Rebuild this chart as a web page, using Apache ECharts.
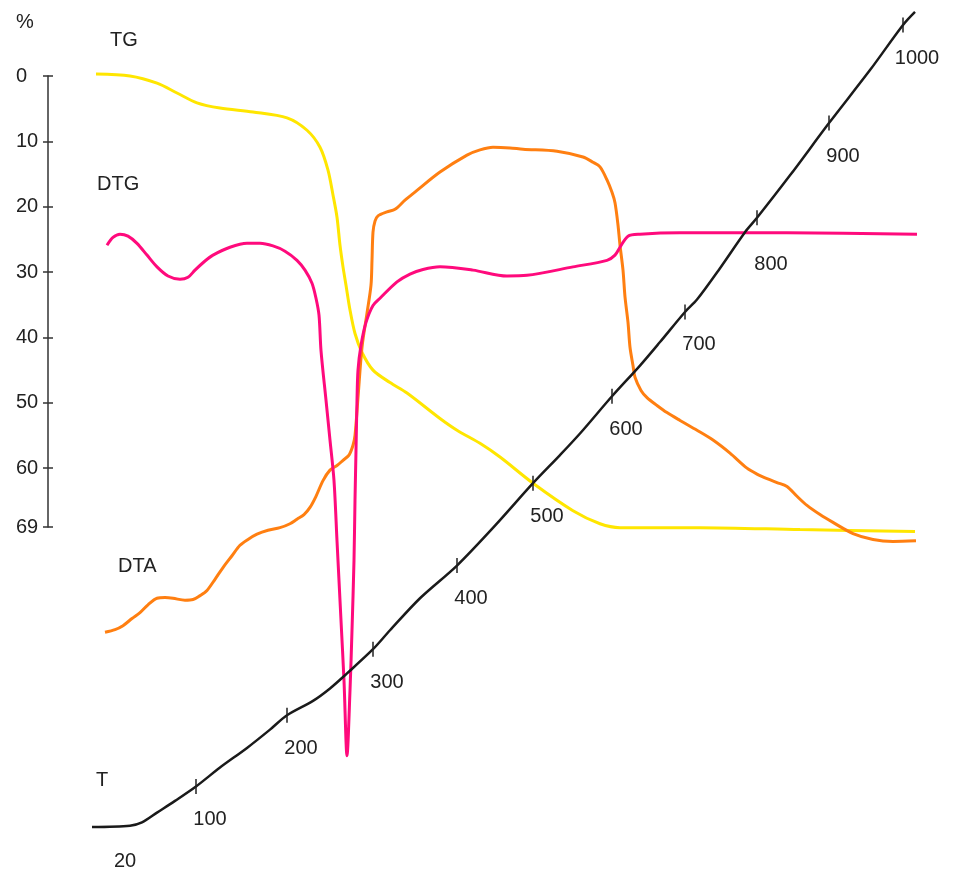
<!DOCTYPE html>
<html lang="en">
<head>
    <meta charset="UTF-8" />
    <title>TG / DTG / DTA</title>
    <script src="https://cdn.jsdelivr.net/npm/echarts@6/dist/echarts.min.js"></script>
    <style>body { margin: 0; background: #fff; }</style>
</head>
<body>
    <div style="width: 955px; height: 870px" id="chart"></div>
    <script>
        // horizontal position (time-like, arbitrary units) and value on the % scale
        const tgX = [4.8, 8.2, 10.9, 12.9, 14.9, 17.2, 20.5, 23.9, 25.9, 27.2, 28.0, 28.5, 28.9, 29.2, 29.5, 29.8, 30.2, 30.7, 31.4, 32.5, 34.2, 35.9, 39.2, 40.9, 43.2, 45.2, 48.5, 52.5, 55.2, 57.2, 65.2, 75.2, 86.7];
        const tgY = [-0.3, 0, 1.1, 2.6, 4.1, 4.9, 5.5, 6.4, 8.3, 10.9, 14.4, 18.2, 21.6, 25.9, 29.2, 32.0, 35.8, 39.4, 42.3, 45.0, 46.9, 48.5, 52.4, 54.2, 56.2, 58.3, 62.3, 66.5, 68.5, 69.1, 69.1, 69.4, 69.7];

        const dtgX = [5.9, 6.5, 7.2, 8.0, 8.9, 9.9, 10.9, 12.0, 13.2, 14.0, 14.7, 15.7, 16.5, 18.2, 19.9, 21.2, 22.5, 23.7, 24.9, 25.7, 26.4, 26.8, 27.1, 27.3, 27.8, 28.2, 28.6, 28.9, 29.3, 29.6, 29.9, 30.2, 30.4, 30.6, 30.7, 30.8, 30.9, 31.0, 31.3, 31.8, 32.5, 33.2, 34.9, 36.2, 37.5, 39.2, 42.5, 45.9, 47.9, 52.5, 55.9, 56.7, 57.2, 58.0, 59.2, 63.2, 73.9, 86.9];
        const dtgY = [25.9, 24.7, 24.2, 24.5, 25.6, 27.4, 29.2, 30.6, 31.1, 30.8, 29.7, 28.3, 27.4, 26.2, 25.6, 25.6, 26.0, 26.8, 28.2, 29.7, 31.7, 34.0, 36.6, 42.0, 49.6, 55.7, 61.9, 71.1, 83.3, 92.5, 104.0, 94.0, 84.8, 74.1, 64.9, 57.3, 49.6, 45.0, 41.2, 37.7, 35.1, 34.0, 31.5, 30.3, 29.6, 29.2, 29.7, 30.6, 30.5, 29.2, 28.2, 27.4, 26.2, 24.5, 24.2, 24.0, 24.0, 24.2];

        const dtaX = [5.7, 6.7, 7.5, 8.4, 9.2, 10.0, 10.9, 11.7, 12.5, 13.7, 14.5, 15.2, 15.9, 16.7, 17.5, 18.4, 19.2, 20.0, 20.9, 22.0, 23.2, 24.2, 24.9, 25.6, 26.2, 26.8, 27.5, 28.2, 28.9, 29.5, 30.1, 30.5, 30.7, 31.0, 31.4, 31.9, 32.3, 32.4, 32.5, 32.7, 33.0, 33.9, 34.7, 35.7, 36.9, 39.2, 41.9, 43.2, 44.5, 46.2, 47.5, 50.9, 53.5, 54.5, 55.2, 55.9, 56.4, 56.7, 57.0, 57.2, 57.5, 57.7, 58.0, 58.2, 58.5, 58.7, 59.3, 59.9, 60.9, 61.9, 63.2, 64.9, 66.5, 68.2, 69.9, 70.9, 71.9, 72.9, 73.9, 74.9, 75.9, 77.2, 78.5, 80.5, 82.5, 84.5, 86.8];
        const dtaY = [85.1, 84.7, 84.1, 83.0, 82.1, 80.9, 79.9, 79.8, 79.9, 80.2, 80.1, 79.5, 78.7, 77.0, 75.2, 73.4, 71.8, 70.9, 70.1, 69.5, 69.1, 68.5, 67.8, 67.1, 66.0, 64.3, 61.9, 60.3, 59.6, 58.8, 58.0, 56.5, 55.0, 49.2, 41.5, 36.3, 32.0, 28.2, 23.9, 22.2, 21.4, 20.8, 20.4, 19.0, 17.5, 14.7, 12.1, 11.3, 10.9, 11.0, 11.2, 11.5, 12.4, 13.2, 13.9, 15.9, 17.8, 19.4, 22.8, 25.9, 29.7, 33.8, 37.7, 41.5, 44.3, 46.1, 48.1, 49.2, 50.4, 51.5, 52.7, 54.2, 55.7, 57.7, 60.0, 60.9, 61.6, 62.2, 62.8, 64.3, 65.7, 67.1, 68.3, 70.0, 70.9, 71.2, 71.1];

        const tX = [4.4, 8.2, 9.4, 10.9, 12.7, 14.8, 17.2, 19.9, 22.2, 23.9, 26.5, 28.2, 29.9, 32.5, 34.2, 37.2, 40.9, 44.7, 48.5, 51.2, 53.2, 56.4, 59.2, 61.2, 63.7, 64.9, 67.2, 69.7, 70.9, 74.2, 78.1, 82.2, 85.5, 86.7];
        const tY = [114.9, 114.7, 114.2, 112.7, 110.9, 108.7, 105.8, 102.8, 100.0, 97.8, 95.6, 93.7, 91.4, 87.7, 84.8, 79.9, 74.9, 68.8, 62.3, 58.0, 54.7, 49.0, 44.3, 40.7, 36.1, 34.2, 29.4, 23.9, 21.7, 15.2, 7.2, -0.9, -7.8, -9.8];

        // temperature marks along the T curve
        const tempLabels = ["20", "100", "200", "300", "400", "500", "600", "700", "800", "900", "1000"];
        const tempMarkX = [7.7, 14.8, 23.9, 32.5, 40.9, 48.5, 56.4, 63.7, 70.9, 78.1, 85.5];
        const tempMarkY = [114.7, 108.7, 97.8, 87.7, 74.9, 62.3, 49.0, 36.1, 21.7, 7.2, -7.8];

        const zip = (xs, ys) => xs.map((x, i) => [x, ys[i]]);
        const font = "'Liberation Sans', Arial, sans-serif";
        const ink = "#222";

        const myChart = echarts.init(document.getElementById("chart"));

        const markData = tempLabels.map((lab, i) => {
            const item = { value: [tempMarkX[i], tempMarkY[i], lab] };
            if (lab === "20") {
                item.symbolSize = 0;
                item.label = { offset: [0, 36] };
            } else if (lab === "800") {
                item.label = { offset: [14, 47] };
            }
            return item;
        });

        function curve(name, xs, ys, color, width) {
            return {
                name: name,
                type: "line",
                data: zip(xs, ys),
                smooth: 0.3,
                showSymbol: false,
                clip: false,
                lineStyle: { color: color, width: width },
                z: 3,
            };
        }

        const option = {
            animation: false,
            backgroundColor: "#fff",
            grid: { left: 48, right: 0, top: 76, bottom: 343 },
            xAxis: { type: "value", min: 0, max: 90.7, show: false },
            yAxis: [
                {
                    type: "value",
                    position: "left",
                    inverse: true,
                    min: 0,
                    max: 69,
                    interval: 10,
                    splitLine: { show: false },
                    axisLine: { show: true, lineStyle: { color: "#333", width: 1.5 } },
                    axisTick: { show: true, length: 5, lineStyle: { color: "#333", width: 1.5 } },
                    axisLabel: {
                        align: "left",
                        margin: 32,
                        fontSize: 20,
                        fontFamily: font,
                        color: ink,
                        showMaxLabel: true,
                        padding: [5, 0, 0, 0],
                    },
                },
                {
                    // inner half of the cross-shaped ticks
                    type: "value",
                    position: "left",
                    offset: 0,
                    inverse: true,
                    min: 0,
                    max: 69,
                    interval: 10,
                    splitLine: { show: false },
                    axisLine: { show: false },
                    axisLabel: { show: false },
                    axisTick: { show: true, inside: true, length: 5, lineStyle: { color: "#333", width: 1.5 } },
                },
            ],
            graphic: [
                { type: "text", left: 16, top: 12, style: { text: "%", fontSize: 20, fontFamily: font, fill: ink } },
                { type: "text", left: 110, top: 30, style: { text: "TG", fontSize: 20, fontFamily: font, fill: ink } },
                { type: "text", left: 97, top: 174, style: { text: "DTG", fontSize: 20, fontFamily: font, fill: ink } },
                { type: "text", left: 118, top: 556, style: { text: "DTA", fontSize: 20, fontFamily: font, fill: ink } },
                { type: "text", left: 96, top: 770, style: { text: "T", fontSize: 20, fontFamily: font, fill: ink } },
            ],
            series: [
                curve("TG", tgX, tgY, "#ffe600", 3),
                curve("DTA", dtaX, dtaY, "#ff7f11", 3),
                curve("DTG", dtgX, dtgY, "#ff0a7c", 3),
                curve("T", tX, tY, "#1a1a1a", 2.5),
                {
                    name: "T marks",
                    type: "scatter",
                    data: markData,
                    symbol: "rect",
                    symbolSize: [1.5, 15],
                    clip: false,
                    itemStyle: { color: "#222", opacity: 1 },
                    label: {
                        show: true,
                        position: "inside",
                        offset: [14, 33],
                        formatter: (p) => p.value[2],
                        fontSize: 20,
                        fontFamily: font,
                        color: ink,
                    },
                    z: 4,
                },
            ],
        };

        myChart.setOption(option);
    </script>
</body>
</html>
